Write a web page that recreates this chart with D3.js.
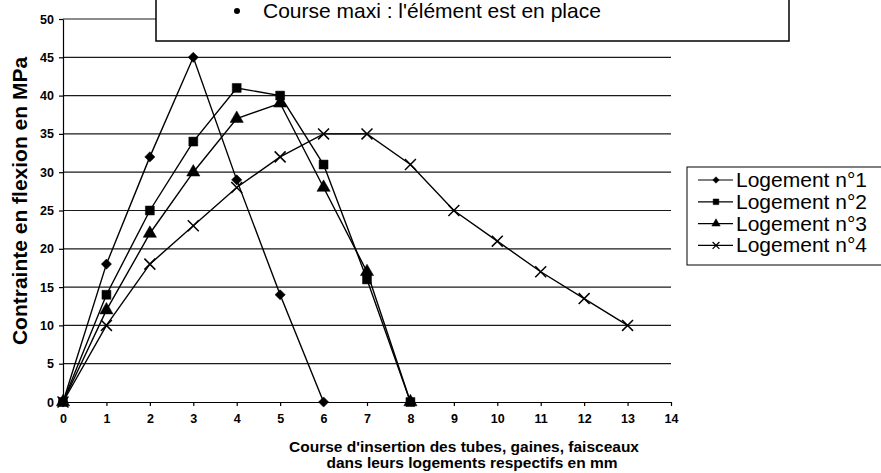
<!DOCTYPE html>
<html>
<head>
<meta charset="utf-8">
<script src="https://cdn.jsdelivr.net/npm/d3@7"></script>
<style>
  body { margin: 0; background: #fff; }
  text { font-family: Arial, "Liberation Sans", sans-serif; fill: #000; }
</style>
</head>
<body>
<script>
// données
const courseX = [0, 1, 2, 3, 4, 5, 6, 7, 8, 9, 10, 11, 12, 13]
const logement1 = [0, 18, 32, 45, 29, 14, 0]
const logement2 = [0, 14, 25, 34, 41, 40, 31, 16, 0]
const logement3 = [0, 12, 22, 30, 37, 39, 28, 17, 0]
const logement4 = [0, 10, 18, 23, 28, 32, 35, 35, 31, 25, 21, 17, 13.5, 10]
const nomsSeries = ["Logement n°1", "Logement n°2", "Logement n°3", "Logement n°4"]
const ticksX = d3.range(0, 15, 1)
const ticksY = d3.range(0, 55, 5)

const W = 881, H = 473

var svg = d3.select("body").append("svg")
    .attr("width", W)
    .attr("height", H)

var x = d3.scaleLinear().domain([0, 14]).range([63, 671])
var y = d3.scaleLinear().domain([0, 50]).range([402, 19])

// grille
svg.append("g")
    .selectAll("line")
    .data(ticksY.filter(d => d > 0))
    .enter()
    .append("line")
    .attr("x1", x(0))
    .attr("x2", x(14))
    .attr("y1", d => y(d))
    .attr("y2", d => y(d))
    .attr("stroke", "#1a1a1a")
    .attr("stroke-width", 1.2)

// axes
var axeX = svg.append("g")
    .attr("transform", "translate(0," + y(0) + ")")
    .call(d3.axisBottom(x).tickValues(ticksX).tickSize(4).tickSizeOuter(0).tickPadding(8))
var axeY = svg.append("g")
    .attr("transform", "translate(" + x(0) + ",0)")
    .call(d3.axisLeft(y).tickValues(ticksY).tickSize(4).tickSizeOuter(0).tickPadding(5))

svg.selectAll(".tick text")
    .style("font-family", "Arial, 'Liberation Sans', sans-serif")
    .style("font-size", "12.5px")
    .style("font-weight", "bold")
svg.selectAll(".domain, .tick line").attr("stroke", "#000").attr("stroke-width", 1.2)

// titres
svg.append("text")
    .attr("transform", "translate(27,201) rotate(-90)")
    .attr("text-anchor", "middle")
    .style("font-size", "21px")
    .style("font-weight", "bold")
    .text("Contrainte en flexion en MPa")

svg.append("text")
    .attr("x", 464)
    .attr("y", 452)
    .attr("text-anchor", "middle")
    .style("font-size", "15.5px")
    .style("font-weight", "bold")
    .text("Course d'insertion des tubes, gaines, faisceaux")
svg.append("text")
    .attr("x", 472)
    .attr("y", 468)
    .attr("text-anchor", "middle")
    .style("font-size", "15.5px")
    .style("font-weight", "bold")
    .text("dans leurs logements respectifs en mm")

// séries
const series = [logement1, logement2, logement3, logement4].map((vals, i) => ({
    nom: nomsSeries[i],
    points: vals.map((v, j) => ({ x: courseX[j], y: v }))
}))

// losange = carré tourné de 45°
const symboles = [d3.symbolSquare, d3.symbolSquare, d3.symbolTriangle, d3.symbolTimes]
const rotations = [45, 0, 0, 0]
const tailles = [52, 80, 76, 80]

var ligne = d3.line().x(d => x(d.x)).y(d => y(d.y))

series.forEach(function (s, i) {
    svg.append("path")
        .datum(s.points)
        .attr("fill", "none")
        .attr("stroke", "#000")
        .attr("stroke-width", 1.4)
        .attr("d", ligne)

    svg.append("g")
        .selectAll("path")
        .data(s.points)
        .enter()
        .append("path")
        .attr("transform", d => "translate(" + x(d.x) + "," + y(d.y) + ") rotate(" + rotations[i] + ")")
        .attr("d", d3.symbol().type(symboles[i]).size(tailles[i]))
        .attr("fill", i == 3 ? "none" : "#000")
        .attr("stroke", "#000")
        .attr("stroke-width", i == 3 ? 1.5 : 0.5)
})

// encadré du haut
svg.append("rect")
    .attr("x", 156)
    .attr("y", -2)
    .attr("width", 633)
    .attr("height", 43)
    .attr("fill", "#fff")
    .attr("stroke", "#000")
    .attr("stroke-width", 1.5)
svg.append("circle")
    .attr("cx", 237)
    .attr("cy", 11)
    .attr("r", 3)
    .attr("fill", "#000")
svg.append("text")
    .attr("x", 263)
    .attr("y", 18)
    .style("font-size", "21px")
    .text("Course maxi : l'élément est en place")

// légende
var legende = svg.append("g")
legende.append("rect")
    .attr("x", 687)
    .attr("y", 167)
    .attr("width", 200)
    .attr("height", 98)
    .attr("fill", "#fff")
    .attr("stroke", "#000")
    .attr("stroke-width", 1)

series.forEach(function (s, i) {
    var yy = 180 + i * 21.8
    legende.append("line")
        .attr("x1", 698).attr("x2", 733)
        .attr("y1", yy).attr("y2", yy)
        .attr("stroke", "#000")
        .attr("stroke-width", 1.2)
    legende.append("path")
        .attr("transform", "translate(716," + yy + ") rotate(" + rotations[i] + ")")
        .attr("d", d3.symbol().type(symboles[i]).size(tailles[i] * 0.4))
        .attr("fill", i == 3 ? "none" : "#000")
        .attr("stroke", "#000")
        .attr("stroke-width", i == 3 ? 1.2 : 0.5)
    legende.append("text")
        .attr("x", 736)
        .attr("y", yy + 7)
        .style("font-size", "21px")
        .text(s.nom)
})
</script>
</body>
</html>
